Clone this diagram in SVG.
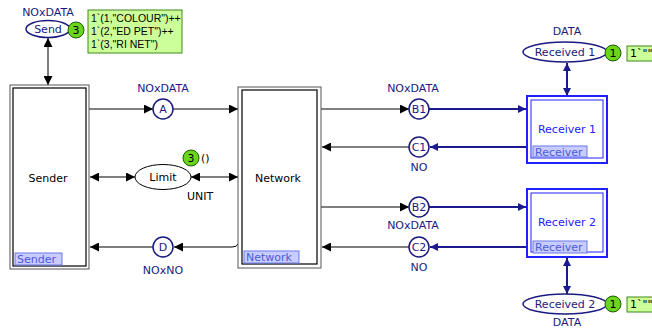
<svg xmlns="http://www.w3.org/2000/svg" width="652" height="333" viewBox="0 0 652 333">
  <style>
    text { font-family: "DejaVu Sans", Verdana, sans-serif; font-size: 11px; }
    .lbl { fill: #1a1a80; text-anchor: middle; }
    .blk { fill: #000; text-anchor: middle; }
    .place { fill: #fff; stroke: #1a1a80; stroke-width: 1.5; }
    .place-b { fill: #fff; stroke: #000; stroke-width: 1; }
    .tr-out { fill: #fff; stroke: #555; stroke-width: 1; }
    .tr-in { fill: none; stroke: #000; stroke-width: 1.2; }
    .rc-out { fill: #fff; stroke: #2020ff; stroke-width: 2; }
    .rc-in { fill: none; stroke: #2020ff; stroke-width: 1; }
    .tag { fill: #c8ccff; stroke: #6a78e8; stroke-width: 1; }
    .tagt { fill: #4a5ad8; font-size: 11px; }
    .tok { fill: #6bd51d; stroke: #1d5a00; stroke-width: 1; }
    .tokt { fill: #000; text-anchor: middle; font-size: 11px; }
    .mark { fill: #ccff99; stroke: #3f8a1a; stroke-width: 1; }
    .markt { fill: #000; font-size: 11px; }
    .markc { fill: #000; font-family: "Liberation Sans", Arial, sans-serif; font-size: 10.5px; }
    .arc { fill: none; stroke: #000; stroke-width: 1; }
    .arcb { fill: none; stroke: #1a1a8c; stroke-width: 2; }
  </style>
  <defs>
    <marker id="ah" viewBox="0 0 10 10" refX="10" refY="5" markerWidth="11" markerHeight="9" markerUnits="userSpaceOnUse" orient="auto-start-reverse">
      <path d="M0,0 L10,5 L0,10 z" fill="#000"/>
    </marker>
    <marker id="ahb" viewBox="0 0 10 10" refX="10" refY="5" markerWidth="9" markerHeight="8" markerUnits="userSpaceOnUse" orient="auto-start-reverse">
      <path d="M0,0 L10,5 L0,10 z" fill="#1a1a8c"/>
    </marker>
  </defs>

  <!-- connectors -->
  <g id="arcs">
    <line class="arc" x1="48" y1="38" x2="48" y2="85" marker-start="url(#ah)" marker-end="url(#ah)"/>
    <line class="arc" x1="89" y1="109" x2="153" y2="109" marker-end="url(#ah)"/>
    <line class="arc" x1="173" y1="109" x2="238" y2="109" marker-end="url(#ah)"/>
    <line class="arc" x1="90" y1="177" x2="135" y2="177" marker-start="url(#ah)" marker-end="url(#ah)"/>
    <line class="arc" x1="191" y1="177" x2="238" y2="177" marker-start="url(#ah)" marker-end="url(#ah)"/>
    <path class="arc" d="M238,244 Q237,247 232,247 L174,247" marker-end="url(#ah)"/>
    <line class="arc" x1="153" y1="247" x2="90" y2="247" marker-end="url(#ah)"/>
    <line class="arc" x1="321" y1="109" x2="409" y2="109" marker-end="url(#ah)"/>
    <line class="arc" x1="409" y1="147" x2="322" y2="147" marker-end="url(#ah)"/>
    <line class="arc" x1="321" y1="207" x2="409" y2="207" marker-end="url(#ah)"/>
    <line class="arc" x1="409" y1="247" x2="322" y2="247" marker-end="url(#ah)"/>
    <line class="arcb" x1="429" y1="109" x2="526" y2="109" marker-end="url(#ahb)"/>
    <line class="arcb" x1="526" y1="147" x2="430" y2="147" marker-end="url(#ahb)"/>
    <line class="arcb" x1="429" y1="207" x2="526" y2="207" marker-end="url(#ahb)"/>
    <line class="arcb" x1="526" y1="247" x2="430" y2="247" marker-end="url(#ahb)"/>
    <line class="arcb" x1="567" y1="63" x2="567" y2="96" stroke-width="1.5" marker-start="url(#ahb)" marker-end="url(#ahb)"/>
    <line class="arcb" x1="567" y1="258" x2="567" y2="294" stroke-width="1.5" marker-start="url(#ahb)" marker-end="url(#ahb)"/>
  </g>

  <!-- Send place with initial marking -->
  <g id="send">
    <text class="lbl" x="48" y="16">NOxDATA</text>
    <ellipse class="place" cx="48" cy="29" rx="22" ry="8.5"/>
    <text class="lbl" x="48" y="33">Send</text>
    <circle class="tok" cx="76" cy="30" r="8"/>
    <text class="tokt" x="76" y="34">3</text>
    <rect class="mark" x="88" y="10" width="94" height="43"/>
    <text class="markc" x="91" y="22">1`(1,"COLOUR")++</text>
    <text class="markc" x="91" y="35">1`(2,"ED PET")++</text>
    <text class="markc" x="91" y="48">1`(3,"RI NET")</text>
  </g>

  <!-- Sender substitution transition -->
  <g id="sender">
    <rect class="tr-out" x="10" y="85" width="79" height="184"/>
    <rect class="tr-in" x="13" y="88" width="73" height="178"/>
    <text class="blk" x="48" y="182">Sender</text>
    <rect class="tag" x="15" y="253" width="47" height="12"/>
    <text class="tagt" x="17" y="263">Sender</text>
  </g>

  <!-- Network substitution transition -->
  <g id="network">
    <rect class="tr-out" x="238" y="87" width="83" height="181"/>
    <rect class="tr-in" x="242" y="90" width="75" height="174"/>
    <text class="blk" x="278" y="182">Network</text>
    <rect class="tag" x="244" y="251" width="55" height="12"/>
    <text class="tagt" x="246" y="261">Network</text>
  </g>

  <g id="placeA">
    <text class="lbl" x="163" y="92">NOxDATA</text>
    <circle class="place" cx="163" cy="109" r="10"/>
    <text class="lbl" x="163" y="113">A</text>
  </g>

  <g id="limit">
    <ellipse class="place-b" cx="163" cy="177" rx="28" ry="12.5"/>
    <text class="blk" x="163" y="181">Limit</text>
    <circle class="tok" cx="191" cy="158" r="8"/>
    <text class="tokt" x="191" y="162">3</text>
    <text class="markt" x="201" y="162">()</text>
    <text class="blk" x="200" y="200">UNIT</text>
  </g>

  <g id="placeD">
    <circle class="place" cx="163" cy="247" r="10"/>
    <text class="lbl" x="163" y="251">D</text>
    <text class="lbl" x="163" y="274">NOxNO</text>
  </g>

  <g id="placeB1">
    <text class="lbl" x="413" y="92">NOxDATA</text>
    <circle class="place" cx="419" cy="109" r="10"/>
    <text class="lbl" x="419" y="113">B1</text>
  </g>

  <g id="placeC1">
    <circle class="place" cx="419" cy="147" r="10"/>
    <text class="lbl" x="419" y="151">C1</text>
    <text class="lbl" x="419" y="171">NO</text>
  </g>

  <g id="placeB2">
    <circle class="place" cx="419" cy="207" r="10"/>
    <text class="lbl" x="419" y="211">B2</text>
    <text class="lbl" x="413" y="229">NOxDATA</text>
  </g>

  <g id="placeC2">
    <circle class="place" cx="419" cy="247" r="10"/>
    <text class="lbl" x="419" y="251">C2</text>
    <text class="lbl" x="419" y="271">NO</text>
  </g>

  <g id="receiver1">
    <rect class="rc-out" x="527" y="96" width="80" height="67"/>
    <rect class="rc-in" x="531" y="100" width="72" height="58"/>
    <text x="567" y="133" fill="#2020ff" text-anchor="middle">Receiver 1</text>
    <rect class="tag" x="533" y="146" width="54" height="11"/>
    <text class="tagt" x="535" y="156">Receiver</text>
  </g>

  <g id="receiver2">
    <rect class="rc-out" x="527" y="189" width="80" height="68"/>
    <rect class="rc-in" x="531" y="193" width="72" height="59"/>
    <text x="567" y="226" fill="#2020ff" text-anchor="middle">Receiver 2</text>
    <rect class="tag" x="533" y="241" width="54" height="12"/>
    <text class="tagt" x="535" y="251">Receiver</text>
  </g>

  <g id="received1">
    <text class="lbl" x="567" y="35">DATA</text>
    <ellipse class="place" cx="565" cy="52" rx="42" ry="10"/>
    <text class="lbl" x="565" y="56">Received 1</text>
    <circle class="tok" cx="613" cy="53" r="8"/>
    <text class="tokt" x="613" y="57">1</text>
    <rect class="mark" x="627" y="46" width="40" height="15"/>
    <text class="markt" x="630" y="57">1`""</text>
  </g>

  <g id="received2">
    <ellipse class="place" cx="565" cy="304" rx="42" ry="10"/>
    <text class="lbl" x="565" y="308">Received 2</text>
    <circle class="tok" cx="613" cy="304" r="8"/>
    <text class="tokt" x="613" y="308">1</text>
    <rect class="mark" x="627" y="297" width="40" height="15"/>
    <text class="markt" x="630" y="308">1`""</text>
    <text class="lbl" x="567" y="326">DATA</text>
  </g>
</svg>
